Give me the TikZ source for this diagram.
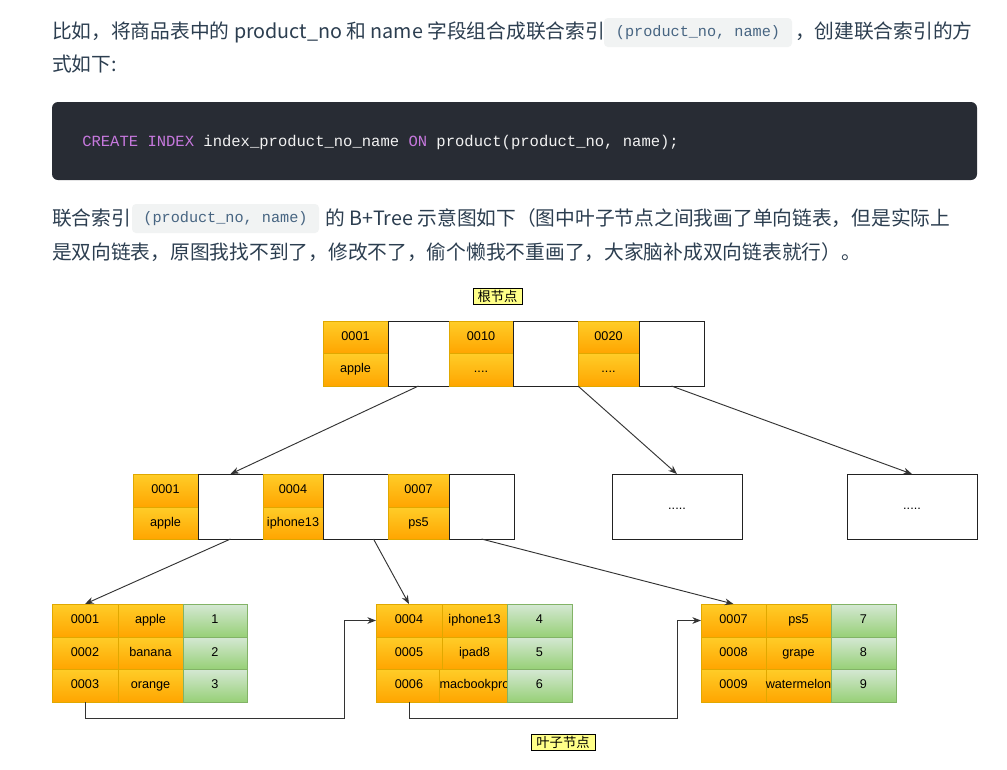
\documentclass[tikz,border=0pt]{standalone}
\usepackage{fontspec}
\setmainfont{Liberation Sans}
\newfontfamily\cjk{Noto Sans CJK SC}
\newfontfamily\codefont{Liberation Mono}
\usetikzlibrary{arrows.meta,calc}

\definecolor{bodytext}{HTML}{2C3E50}
\definecolor{blockbg}{HTML}{282C34}
\definecolor{blocktext}{HTML}{F2F2F2}
\definecolor{keyword}{HTML}{C678DD}
\definecolor{codebg}{HTML}{F1F3F3}
\definecolor{codetext}{HTML}{476582}
\definecolor{otop}{HTML}{FFCD28}
\definecolor{obot}{HTML}{FFA500}
\definecolor{ostroke}{HTML}{E0A800}
\definecolor{gtop}{HTML}{D5E8D4}
\definecolor{gbot}{HTML}{97D077}
\definecolor{gstroke}{HTML}{82B366}
\definecolor{cellline}{HTML}{222222}
\definecolor{linkgray}{HTML}{333333}
\definecolor{tagyellow}{HTML}{FFFF88}

% one cell: name, x1, y1, x2, y2, style, text
\newcommand\bcell[7]{%
  \node[#6, minimum width={(#4-#2)*0.75pt}, minimum height={(#5-#3)*0.75pt}]
    (#1) at ({(#2+#4)/2},{(#3+#5)/2}) {#7};}

\tikzset{
  x=0.75pt, y=-0.75pt,
  cellbase/.style={rectangle, inner sep=0pt, outer sep=0pt,
    font=\fontsize{9.5}{10}\selectfont, text=black, text height=7pt, text depth=2pt},
  ocell/.style={cellbase, draw=ostroke, line width=0.4pt, top color=otop, bottom color=obot},
  gcell/.style={cellbase, draw=gstroke, line width=0.4pt, top color=gtop, bottom color=gbot},
  wcell/.style={cellbase, draw=cellline, line width=0.75pt, fill=white},
  link/.style={draw=linkgray, line width=0.7pt, -{Stealth[length=6.5pt,width=5pt]}},
  chain/.style={draw=linkgray, line width=0.7pt, -{Stealth[length=6.5pt,width=5pt]}},
  tag/.style={rectangle, draw=black, line width=0.5pt, fill=tagyellow, inner sep=0pt,
    font=\cjk\fontsize{10}{11}\selectfont},
  para/.style={inner sep=0pt, outer sep=0pt, anchor=base west, text=bodytext,
    font=\cjk\fontsize{14.8}{18}\selectfont},
  icode/.style={rectangle, rounded corners=3pt, fill=codebg, inner sep=0pt, outer sep=0pt,
    text=codetext, font=\codefont\fontsize{11.4}{12}\selectfont},
}

\begin{document}
\begin{tikzpicture}
\fill[white] (0,0) rectangle (1007,769);
\useasboundingbox (0,0) rectangle (1007,769);

% ---------- paragraph text ----------
\node[para] (p1a) at (52,38) {比如，将商品表中的 product\_no 和 name 字段组合成联合索引};
\bcell{c1}{604}{18}{792}{47}{icode}{(product\_no, name)}
\node[para] (p1b) at (795,38) {，创建联合索引的方};
\node[para] (p2) at (52,71) {式如下:};

\fill[blockbg, rounded corners=4.5pt] (52,102) rectangle (977,180);
\node[inner sep=0pt, anchor=base west, text=blocktext,
      font=\codefont\fontsize{11.65}{13}\selectfont] (sql) at (82,146)
  {\textcolor{keyword}{CREATE INDEX} index\_product\_no\_name \textcolor{keyword}{ON} product(product\_no, name);};

\node[para] (p3a) at (52,225) {联合索引};
\bcell{c2}{132}{204}{319}{233}{icode}{(product\_no, name)}
\node[para] (p3b) at (325,225) {的 B+Tree 示意图如下（图中叶子节点之间我画了单向链表，但是实际上};
\node[para] (p4) at (52,259) {是双向链表，原图我找不到了，修改不了，偷个懒我不重画了，大家脑补成双向链表就行）。};

% ---------- root node ----------
\bcell{rt}{473}{288}{522}{304}{tag}{根节点}
\bcell{r1a}{323}{321}{388}{353}{ocell}{0001}
\bcell{r1b}{323}{353}{388}{386}{ocell}{apple}
\bcell{r1w}{388}{321}{449}{386}{wcell}{}
\bcell{r2a}{449}{321}{513}{353}{ocell}{0010}
\bcell{r2b}{449}{353}{513}{386}{ocell}{....}
\bcell{r2w}{513}{321}{578}{386}{wcell}{}
\bcell{r3a}{578}{321}{639}{353}{ocell}{0020}
\bcell{r3b}{578}{353}{639}{386}{ocell}{....}
\bcell{r3w}{639}{321}{704}{386}{wcell}{}

% ---------- second level ----------
\bcell{m1a}{133}{474}{198}{507}{ocell}{0001}
\bcell{m1b}{133}{507}{198}{539}{ocell}{apple}
\bcell{m1w}{198}{474}{263}{539}{wcell}{}
\bcell{m2a}{263}{474}{323}{507}{ocell}{0004}
\bcell{m2b}{263}{507}{323}{539}{ocell}{iphone13}
\bcell{m2w}{323}{474}{388}{539}{wcell}{}
\bcell{m3a}{388}{474}{449}{507}{ocell}{0007}
\bcell{m3b}{388}{507}{449}{539}{ocell}{ps5}
\bcell{m3w}{449}{474}{514}{539}{wcell}{}
\bcell{b1}{612}{474}{742}{539}{wcell}{.....}
\bcell{b2}{847}{474}{977}{539}{wcell}{.....}

% ---------- leaves ----------
\bcell{l1a}{52}{604}{118}{637}{ocell}{0001}
\bcell{l1b}{118}{604}{183}{637}{ocell}{apple}
\bcell{l1c}{183}{604}{247}{637}{gcell}{1}
\bcell{l1d}{52}{637}{118}{669}{ocell}{0002}
\bcell{l1e}{118}{637}{183}{669}{ocell}{banana}
\bcell{l1f}{183}{637}{247}{669}{gcell}{2}
\bcell{l1g}{52}{669}{118}{702}{ocell}{0003}
\bcell{l1h}{118}{669}{183}{702}{ocell}{orange}
\bcell{l1i}{183}{669}{247}{702}{gcell}{3}

\bcell{l2a}{376}{604}{442}{637}{ocell}{0004}
\bcell{l2b}{442}{604}{507}{637}{ocell}{iphone13}
\bcell{l2c}{507}{604}{572}{637}{gcell}{4}
\bcell{l2d}{376}{637}{442}{669}{ocell}{0005}
\bcell{l2e}{442}{637}{507}{669}{ocell}{ipad8}
\bcell{l2f}{507}{637}{572}{669}{gcell}{5}
\bcell{l2g}{376}{669}{442}{702}{ocell}{0006}
\bcell{l2h}{442}{669}{507}{702}{ocell}{macbookpro}
\bcell{l2i}{507}{669}{572}{702}{gcell}{6}

\bcell{l3a}{701}{604}{766}{637}{ocell}{0007}
\bcell{l3b}{766}{604}{831}{637}{ocell}{ps5}
\bcell{l3c}{831}{604}{896}{637}{gcell}{7}
\bcell{l3d}{701}{637}{766}{669}{ocell}{0008}
\bcell{l3e}{766}{637}{831}{669}{ocell}{grape}
\bcell{l3f}{831}{637}{896}{669}{gcell}{8}
\bcell{l3g}{701}{669}{766}{702}{ocell}{0009}
\bcell{l3h}{766}{669}{831}{702}{ocell}{watermelon}
\bcell{l3i}{831}{669}{896}{702}{gcell}{9}

\bcell{lt}{531}{734}{595}{750}{tag}{叶子节点}

% ---------- pointers ----------
\draw[link] (r1w.south) -- (m1w.north);
\draw[link] (r2w.south east) -- (b1.north);
\draw[link] (r3w.south) -- (b2.north);
\draw[link] (m1w.south) -- (l1a.north);
\draw[link] ($(m2w.south)+(18,0)$) -- (l2a.north);
\draw[link] (m3w.south) -- (l3a.north);

% ---------- leaf chain ----------
\coordinate (k1) at (344,718);
\coordinate (k2) at (677,718);
\draw[chain] (l1g.south) |- (k1) |- (l2a.west);
\draw[chain] (l2g.south) |- (k2) |- (l3a.west);
\end{tikzpicture}
\end{document}
